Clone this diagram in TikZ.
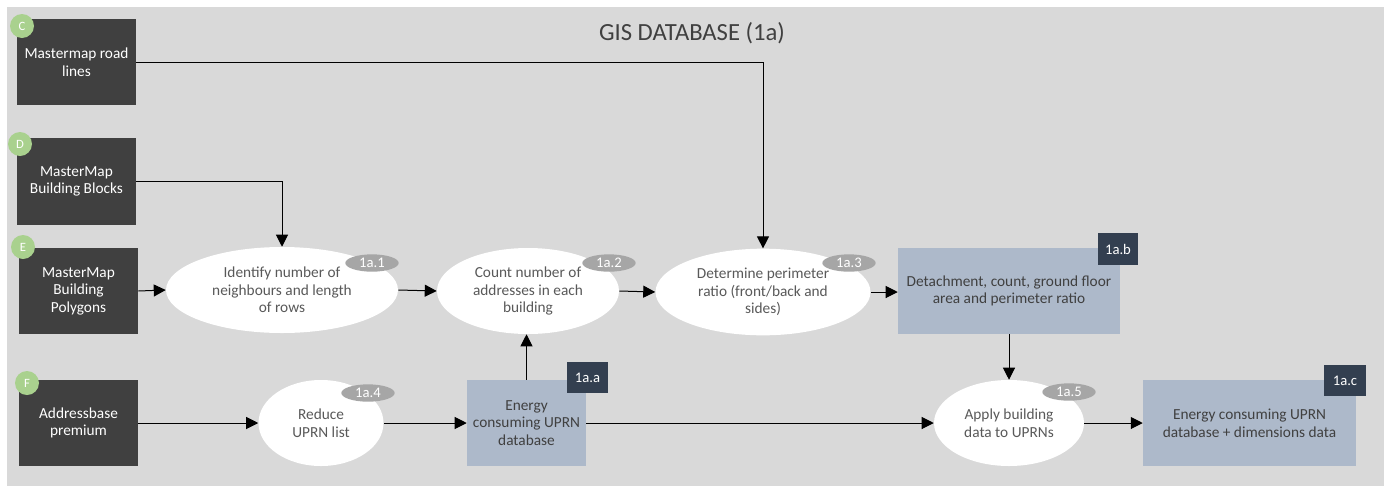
\documentclass[tikz,border=0pt]{standalone}
\usepackage{fontspec}
\setmainfont{Carlito}
\usetikzlibrary{shapes.geometric,arrows.meta}
\definecolor{panelgray}{HTML}{D9D9D9}
\definecolor{srcdark}{HTML}{404040}
\definecolor{srcgreen}{HTML}{A9D18E}
\definecolor{dataBlue}{HTML}{ADB9CA}
\definecolor{tagNavy}{HTML}{333F50}
\definecolor{tagGray}{HTML}{A6A6A6}
\definecolor{procText}{HTML}{595959}

\begin{document}
\begin{tikzpicture}[x=0.75pt,y=-0.75pt,
    font=\fontsize{11.5}{13.2}\selectfont,
    srcbox/.style={rectangle,fill=srcdark,text=white,align=center,
      minimum width=89.25pt,minimum height=64.5pt,inner sep=2pt},
    srctag/.style={circle,fill=srcgreen,text=white,minimum size=18pt,
      inner sep=0pt,font=\fontsize{9.5}{10}\selectfont},
    process/.style={ellipse,fill=white,text=procText,align=center,
      minimum height=64.5pt,inner sep=0pt},
    proctag/.style={ellipse,fill=tagGray,text=white,minimum width=40pt,
      minimum height=13pt,inner sep=0pt,font=\fontsize{11}{12}\selectfont},
    datastore/.style={rectangle,fill=dataBlue,text=srcdark,align=center,
      minimum height=64.5pt,inner sep=2pt},
    datatag/.style={rectangle,fill=tagNavy,text=white,minimum width=30.75pt,
      minimum height=23.25pt,inner sep=0pt,font=\fontsize{11}{12}\selectfont},
    flow/.style={line width=0.75pt,-{Triangle[length=9pt,width=9pt]}}]

  \useasboundingbox (0,0) rectangle (1384,486);
  \fill[panelgray] (7,7) rectangle (1384,486);
  \node[text=srcdark,font=\fontsize{18.5}{20}\selectfont] (title) at (692,33) {GIS DATABASE (1a)};

  % source data
  \node[srcbox] (roads) at (76.5,62) {Mastermap road\\lines};
  \node[srcbox,minimum height=65.25pt] (blocks) at (76.5,181.5) {MasterMap\\Building Blocks};
  \node[srcbox] (polys) at (78.5,291) {MasterMap\\Building\\Polygons};
  \node[srcbox] (addr) at (78.5,423) {Addressbase\\premium};
  \node[srctag] (tagC) at (22,26) {C};
  \node[srctag] (tagD) at (20,144) {D};
  \node[srctag] (tagE) at (23,247) {E};
  \node[srctag] (tagF) at (27,383) {F};

  % processes
  \node[process,minimum width=174pt] (neigh) at (282,290)
    {Identify number of\\neighbours and length\\of rows};
  \node[process,minimum width=136.5pt] (count) at (528,291)
    {Count number of\\addresses in each\\building};
  \node[process,minimum width=161.25pt,minimum height=65pt] (perim) at (763,292)
    {Determine perimeter\\ratio (front/back and\\sides)};
  \node[process,minimum width=93.75pt] (reduce) at (321,423) {Reduce\\UPRN list};
  \node[process,minimum width=112.5pt] (apply) at (1009,423)
    {Apply building\\data to UPRNs};
  \node[proctag] (tag11) at (372,263) {1a.1};
  \node[proctag] (tag12) at (609,263) {1a.2};
  \node[proctag] (tag13) at (849,263) {1a.3};
  \node[proctag] (tag14) at (368,393) {1a.4};
  \node[proctag] (tag15) at (1069,392) {1a.5};

  % data stores
  \node[datastore,minimum width=89.25pt] (uprn) at (526.5,423)
    {Energy\\consuming UPRN\\database};
  \node[datastore,minimum width=166.5pt] (detach) at (1009,291)
    {Detachment, count, ground floor\\area and perimeter ratio};
  \node[datastore,minimum width=159.75pt] (final) at (1249.5,423)
    {Energy consuming UPRN\\database + dimensions data};
  \node[datatag] (tagA) at (587.5,377.5) {1a.a};
  \node[datatag,minimum width=30pt,minimum height=24pt] (tagB) at (1118,249) {1a.b};
  \node[datatag,minimum width=31.5pt] (tagCc) at (1345,380.5) {1a.c};

  % connectors
  \draw[flow] (roads.east) -| (perim.north);
  \draw[flow] (blocks.east) -| (neigh.north);
  \draw[flow] (polys.east) -- (neigh.west);
  \draw[flow] (neigh.east) -- (count.west);
  \draw[flow] (count.east) -- (perim.west);
  \draw[flow] (perim.east) -- (detach.west |- perim.east);
  \draw[flow] (detach.south) -- (apply.north);
  \draw[flow] (addr.east) -- (reduce.west);
  \draw[flow] (reduce.east) -- (uprn.west);
  \draw[flow] (uprn.north) -- (uprn.north |- count.south);
  \draw[flow] (uprn.east) -- (apply.west);
  \draw[flow] (apply.east) -- (final.west);
\end{tikzpicture}
\end{document}
